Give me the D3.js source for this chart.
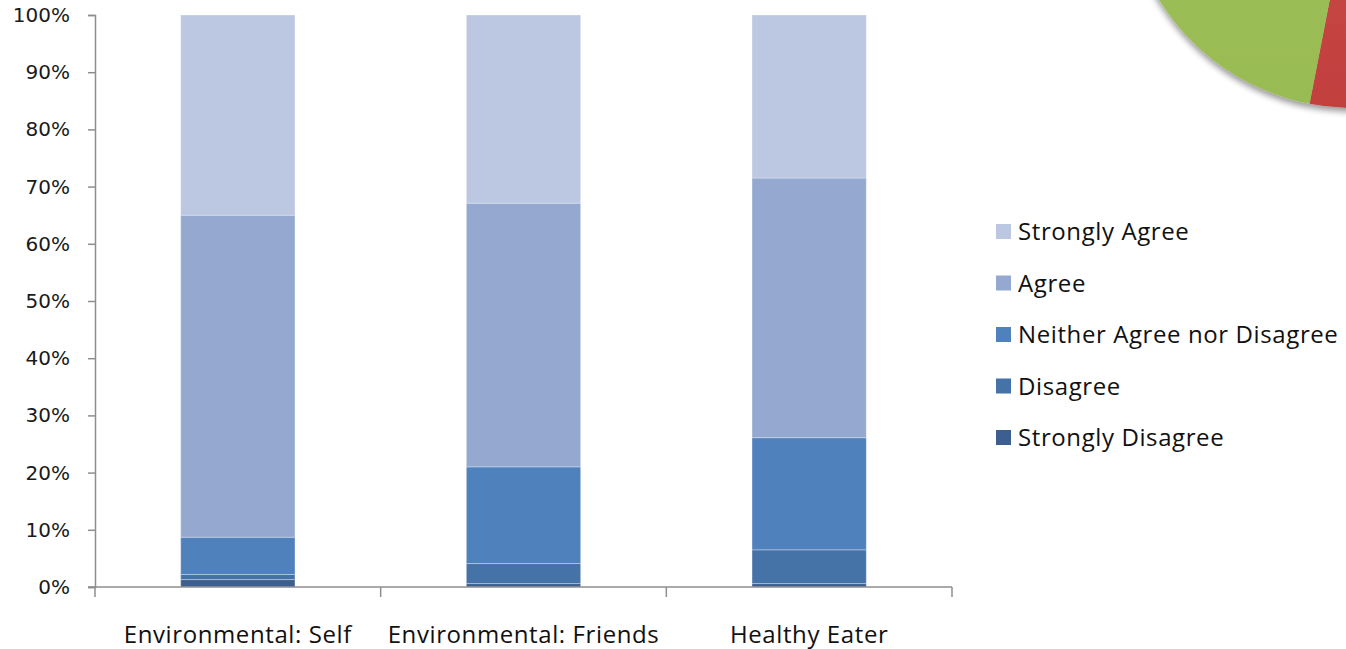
<!DOCTYPE html>
<html>
<head>
<meta charset="utf-8">
<script src="https://cdn.jsdelivr.net/npm/d3@7"></script>
<style>
  html, body { margin: 0; padding: 0; background: #fff; }
  svg { display: block; }
</style>
</head>
<body>
<svg id="chart" width="1346" height="649"></svg>
<script>
// Survey responses per group (percent of respondents)
const categories = ["Environmental: Self", "Environmental: Friends", "Healthy Eater"];
const responseLevels = ["Strongly Disagree", "Disagree", "Neither Agree nor Disagree", "Agree", "Strongly Agree"];
const stronglyDisagree = [1.3, 0.6, 0.6];
const disagree = [0.9, 3.5, 5.9];
const neither = [6.5, 16.9, 19.6];
const agree = [56.3, 46.1, 45.4];
const stronglyAgree = [35.0, 32.9, 28.5];
const yTicks = [0, 10, 20, 30, 40, 50, 60, 70, 80, 90, 100];
const levelColors = ["#3c5f8f", "#4573a8", "#4f81bd", "#95a9d0", "#bcc8e1"];

// Neighbouring pie fragment (partially off-canvas)
const pieShares = [40, 60];

const svg = d3.select("#chart");
const margin = { left: 95, right: 1346 - 952, top: 15, bottom: 649 - 587 };
const W = 1346, H = 649;
const plotW = W - margin.left - margin.right;
const plotH = H - margin.top - margin.bottom;

// ---- pie fragment in the corner ----
const defs = svg.append("defs");
const shadow = defs.append("filter").attr("id", "pieShadow")
  .attr("x", "-20%").attr("y", "-20%").attr("width", "140%").attr("height", "140%");
shadow.append("feGaussianBlur").attr("in", "SourceAlpha").attr("stdDeviation", 3).attr("result", "b");
shadow.append("feOffset").attr("in", "b").attr("dx", 0).attr("dy", 4).attr("result", "o");
shadow.append("feComponentTransfer").attr("in", "o").attr("result", "s")
  .append("feFuncA").attr("type", "linear").attr("slope", 0.4);
const merge = shadow.append("feMerge");
merge.append("feMergeNode").attr("in", "s");
merge.append("feMergeNode").attr("in", "SourceGraphic");

const gGreen = defs.append("linearGradient").attr("id", "gGreen").attr("x1", 0).attr("y1", 0).attr("x2", 0).attr("y2", 1);
gGreen.append("stop").attr("offset", "0%").attr("stop-color", "#a3c45e");
gGreen.append("stop").attr("offset", "100%").attr("stop-color", "#99bb52");
const gRed = defs.append("linearGradient").attr("id", "gRed").attr("x1", 0).attr("y1", 0).attr("x2", 0).attr("y2", 1);
gRed.append("stop").attr("offset", "0%").attr("stop-color", "#d0544f");
gRed.append("stop").attr("offset", "100%").attr("stop-color", "#c13f3e");
const pieFills = ["url(#gRed)", "url(#gGreen)"];

const pieR = 228;
const pie = d3.pie().sort(null).startAngle(0.82).endAngle(0.82 + 2 * Math.PI);
const arc = d3.arc().innerRadius(0).outerRadius(pieR);
const pieG = svg.append("g").attr("transform", "translate(1353,-120)").attr("filter", "url(#pieShadow)");
pieG.selectAll("path").data(pie(pieShares)).join("path")
  .attr("d", arc)
  .attr("fill", (d, i) => pieFills[i]);

// ---- stacked bars ----
const g = svg.append("g").attr("transform", `translate(${margin.left},${margin.top})`);

const x = d3.scaleBand().domain(categories).range([0, plotW]).paddingInner(0.6).paddingOuter(0.3);
const y = d3.scaleLinear().domain([0, 100]).range([plotH, 0]);

const table = categories.map((c, i) => ({
  category: c,
  "Strongly Disagree": stronglyDisagree[i],
  "Disagree": disagree[i],
  "Neither Agree nor Disagree": neither[i],
  "Agree": agree[i],
  "Strongly Agree": stronglyAgree[i]
}));
const stacked = d3.stack().keys(responseLevels)(table);

g.selectAll("g.layer").data(stacked).join("g")
  .attr("class", "layer")
  .attr("fill", (d, i) => levelColors[i])
  .selectAll("rect").data(d => d).join("rect")
  .attr("x", d => x(d.data.category))
  .attr("width", x.bandwidth())
  .attr("y", d => y(d[1]))
  .attr("height", d => y(d[0]) - y(d[1]))
  .attr("stroke", "rgba(255,255,255,0.3)")
  .attr("stroke-width", 1);

// ---- axes ----
const axisColor = "#8e8e8e";
const yAxis = g.append("g")
  .call(d3.axisLeft(y).tickValues(yTicks).tickFormat(d => d + "%").tickSize(7).tickPadding(18));
yAxis.select(".domain").attr("stroke", axisColor).attr("stroke-width", 1.5);
yAxis.selectAll(".tick line").attr("stroke", axisColor).attr("stroke-width", 1.5);
yAxis.selectAll(".tick text")
  .attr("fill", "#1a1a1a")
  .style("font-family", "'DejaVu Sans', sans-serif")
  .style("font-size", "20px");

// x axis: baseline with dividers between categories
const xAxis = g.append("g").attr("transform", `translate(0,${plotH})`);
xAxis.append("line").attr("x1", -7).attr("x2", plotW).attr("y1", 0).attr("y2", 0)
  .attr("stroke", axisColor).attr("stroke-width", 1.5);
const dividers = categories.map(c => x(c) - x.step() * x.paddingOuter()).concat([plotW]);
xAxis.selectAll("line.div").data(dividers).join("line")
  .attr("class", "div")
  .attr("x1", d => d).attr("x2", d => d)
  .attr("y1", 0).attr("y2", 10)
  .attr("stroke", axisColor).attr("stroke-width", 1.5);
xAxis.selectAll("text").data(categories).join("text")
  .attr("x", d => x(d) + x.bandwidth() / 2)
  .attr("y", 56)
  .attr("text-anchor", "middle")
  .attr("fill", "#111")
  .style("font-family", "'Open Sans', sans-serif")
  .style("font-size", "24px")
  .style("letter-spacing", "0.6px")
  .text(d => d);

// ---- legend ----
const legendOrder = responseLevels.slice().reverse();
const legendColors = levelColors.slice().reverse();
const legend = svg.append("g").attr("transform", "translate(996,232)");
const item = legend.selectAll("g").data(legendOrder).join("g")
  .attr("transform", (d, i) => `translate(0,${i * 51.5})`);
item.append("rect").attr("x", 0).attr("y", -8).attr("width", 15).attr("height", 15)
  .attr("fill", (d, i) => legendColors[i]);
item.append("text").attr("x", 22).attr("y", 0).attr("dy", "0.35em")
  .attr("fill", "#111")
  .style("font-family", "'Open Sans', sans-serif")
  .style("font-size", "24px")
  .style("letter-spacing", "0.6px")
  .text(d => d);
</script>
</body>
</html>
